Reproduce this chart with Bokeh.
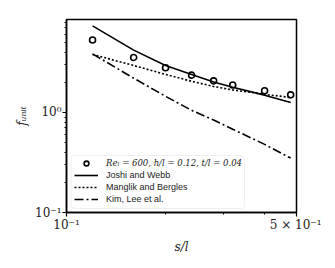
from bokeh.plotting import figure
from bokeh.models import (FixedTicker, CustomJSTickFormatter, Legend, LegendItem,
                          BoxAnnotation, Range1d)
from bokeh.embed import file_html
from bokeh.resources import INLINE

# ---- data ----
s_l = [0.12, 0.16, 0.20, 0.24, 0.28, 0.32, 0.40, 0.48]
f_sim = [5.3, 3.55, 2.8, 2.36, 2.07, 1.88, 1.65, 1.5]
f_joshi = [7.35, 4.2, 2.95, 2.4, 2.02, 1.79, 1.49, 1.26]
f_manglik = [3.8, 2.95, 2.4, 2.05, 1.82, 1.68, 1.52, 1.41]
f_kim = [3.85, 2.2, 1.45, 1.05, 0.84, 0.68, 0.48, 0.35]

x_major = [0.1, 0.5]
x_major_labels = ["10⁻¹", "5 × 10⁻¹"]
x_minor = [0.2, 0.3, 0.4]
y_major = [0.1, 1.0]
y_major_labels = ["10⁻¹", "10⁰"]
y_minor = [0.2, 0.3, 0.4, 0.5, 0.6, 0.7, 0.8, 0.9, 2, 3, 4, 5, 6, 7, 8]

label_sim = "Reₗ = 600, h/l = 0.12, t/l = 0.04"
label_joshi = "Joshi and Webb"
label_manglik = "Manglik and Bergles"
label_kim = "Kim, Lee et al."

p = figure(x_axis_type="log", y_axis_type="log",
           x_range=Range1d(0.1, 0.5), y_range=Range1d(0.1, 8.5),
           frame_width=230, frame_height=193,
           min_border_left=66, min_border_right=25, min_border_top=19, min_border_bottom=40,
           output_backend="svg", toolbar_location=None)
p.grid.visible = False
p.outline_line_color = "black"
p.outline_line_width = 1.5
p.background_fill_color = "white"

r_sim = p.scatter(s_l, f_sim, marker="circle", size=6, fill_alpha=0,
                  line_color="black", line_width=1.6)
r_joshi = p.line(s_l, f_joshi, line_color="black", line_width=1.6)
r_manglik = p.line(s_l, f_manglik, line_color="black", line_width=1.6, line_dash="2 2")
r_kim = p.line(s_l, f_kim, line_color="black", line_width=1.6, line_dash="9 3 2 3")

fmt_code = """
for (let i = 0; i < vals.length; i++) {
  if (Math.abs(tick - vals[i]) < 1e-6 * vals[i]) return labs[i];
}
return '';
"""
p.xaxis.ticker = FixedTicker(ticks=x_major, minor_ticks=x_minor)
p.yaxis.ticker = FixedTicker(ticks=y_major, minor_ticks=y_minor)
p.xaxis.formatter = CustomJSTickFormatter(args=dict(vals=x_major, labs=x_major_labels), code=fmt_code)
p.yaxis.formatter = CustomJSTickFormatter(args=dict(vals=y_major, labs=y_major_labels), code=fmt_code)

for ax in (p.xaxis, p.yaxis):
    ax.axis_line_width = 1.5
    ax.axis_line_color = "black"
    ax.major_tick_out = 4
    ax.major_tick_in = 0
    ax.minor_tick_out = 2
    ax.minor_tick_in = 0
    ax.major_tick_line_width = 1.2
    ax.minor_tick_line_width = 1
    ax.major_label_text_font = "DejaVu Serif"
    ax.major_label_text_font_size = "12px"
    ax.major_label_text_color = "#222222"
    ax.major_label_standoff = 1
    ax.axis_label_text_font = "DejaVu Serif"
    ax.axis_label_text_font_style = "italic"
    ax.axis_label_text_font_size = "12px"
    ax.axis_label_text_color = "#222222"

p.xaxis.axis_label = "s/l"
p.yaxis.axis_label = "fᵤₙᵢₜ"
p.xaxis.axis_label_standoff = 5
p.yaxis.axis_label_standoff = 3

# legend frame
box = BoxAnnotation(left=4.7, right=178, bottom=4, top=57,
                    left_units="screen", right_units="screen",
                    bottom_units="screen", top_units="screen",
                    fill_color="white", fill_alpha=0.85,
                    line_color="#cccccc", line_width=1, border_radius=3)
p.add_layout(box)

common = dict(padding=3, spacing=0, margin=0, glyph_height=12, label_height=12,
              glyph_width=24, label_standoff=8, border_line_alpha=0,
              background_fill_alpha=0)

leg_a = Legend(items=[LegendItem(label=label_joshi, renderers=[r_joshi]),
                      LegendItem(label=label_manglik, renderers=[r_manglik]),
                      LegendItem(label=label_kim, renderers=[r_kim])],
               location=(5, 4), label_text_font="Liberation Sans",
               label_text_font_size="9px", label_text_color="#222222", **common)
leg_b = Legend(items=[LegendItem(label=label_sim, renderers=[r_sim])],
               location=(5, 39.7), label_text_font="DejaVu Serif",
               label_text_font_style="italic",
               label_text_font_size="8.5px", label_text_color="#222222", **common)
p.add_layout(leg_a)
p.add_layout(leg_b)

open("out.html", "w").write(file_html(p, INLINE))
